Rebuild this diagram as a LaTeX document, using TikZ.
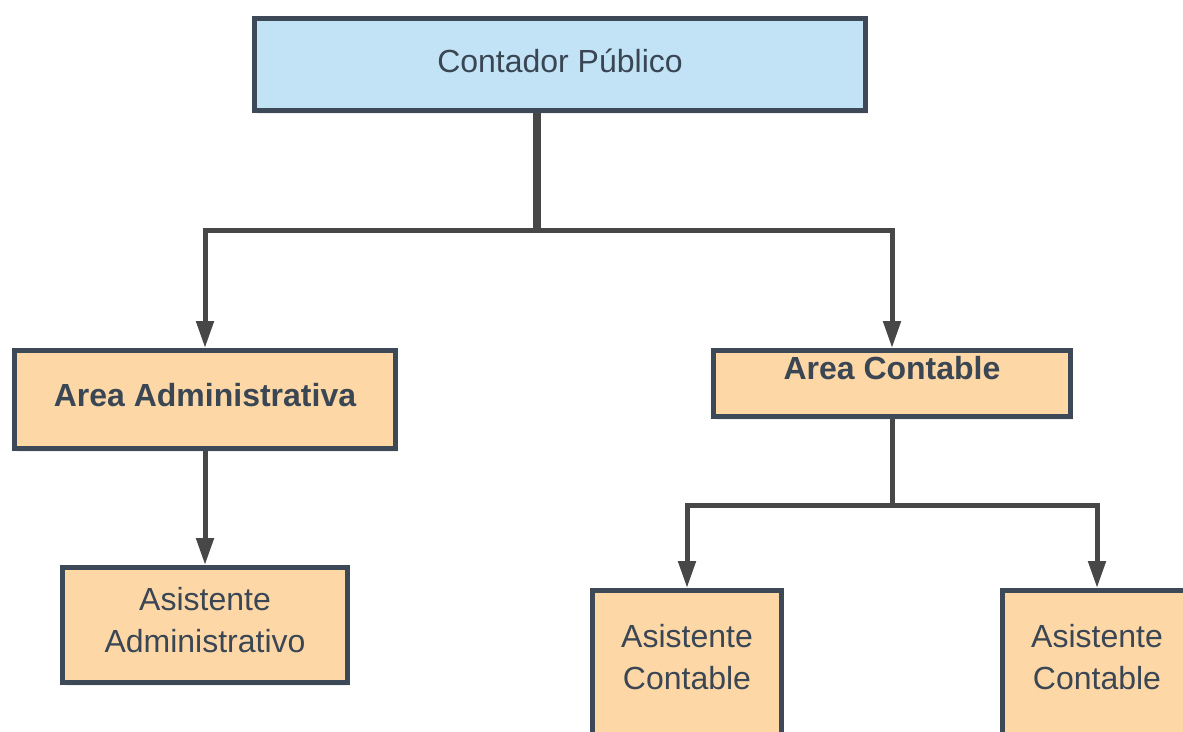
\documentclass[tikz,border=0pt]{standalone}
\usepackage{fontspec}
\setmainfont{Liberation Sans}
\usetikzlibrary{arrows.meta,shadows}
\definecolor{borde}{HTML}{3D4956}
\definecolor{texto}{HTML}{3A4654}
\definecolor{azul}{HTML}{C2E3F5}
\definecolor{naranja}{HTML}{FDD8A6}
\definecolor{linea}{HTML}{474747}
\tikzset{
	caja/.style={draw=borde,line width=5pt,inner sep=0pt,text=texto,align=center,
		font=\fontsize{32}{42}\selectfont,
		drop shadow={opacity=0.12,shadow xshift=2pt,shadow yshift=-3pt}},
	jefe/.style={caja,fill=azul},
	area/.style={caja,fill=naranja,font=\fontsize{32}{42}\selectfont\bfseries},
	asis/.style={caja,fill=naranja},
	linea/.style={draw=linea,line width=5pt,line join=miter},
	flecha/.style={linea,-{Triangle[width=17pt,length=27pt]}}
}
\begin{document}
\begin{tikzpicture}[x=1pt,y=-1pt]
		\useasboundingbox (0,0) rectangle (1183,731);
		% cajas
		\node[jefe,minimum width=611pt,minimum height=92pt,text height=23pt,text depth=8pt] (cp) at (560,64.5) {Contador Público};
		\node[area,minimum width=381pt,minimum height=98pt,text height=23pt,text depth=10pt] (aa) at (205,399.5) {Area Administrativa};
		\node[area,minimum width=357pt,minimum height=66pt,text height=22pt,text depth=30pt] (ac) at (892,383.5) {Area Contable};
		\node[asis,minimum width=285pt,minimum height=115pt,text height=54pt,text depth=0pt] (asa) at (205,625) {Asistente\\Administrativo};
		\node[asis,minimum width=189pt,minimum height=157pt,text height=40pt,text depth=0pt] (asc1) at (687,669) {Asistente\\Contable};
		\node[asis,minimum width=189pt,minimum height=157pt,text height=40pt,text depth=0pt] (asc2) at (1097,669) {Asistente\\Contable};

		% conectores
		\coordinate (tr) at (537,230);
		\coordinate (jc) at (892,505);
		\draw[linea,line width=8pt] (tr |- cp.south) -- (tr);
		\draw[flecha] (tr) -| (aa.north);
		\draw[flecha] (tr) -| (ac.north);
		\draw[flecha] (aa.south) -- (asa.north);
		\draw[linea] (ac.south) -- (jc);
		\draw[flecha] (jc) -| (asc1.north);
		\draw[flecha] (jc) -| (asc2.north);
	\end{tikzpicture}
\end{document}
